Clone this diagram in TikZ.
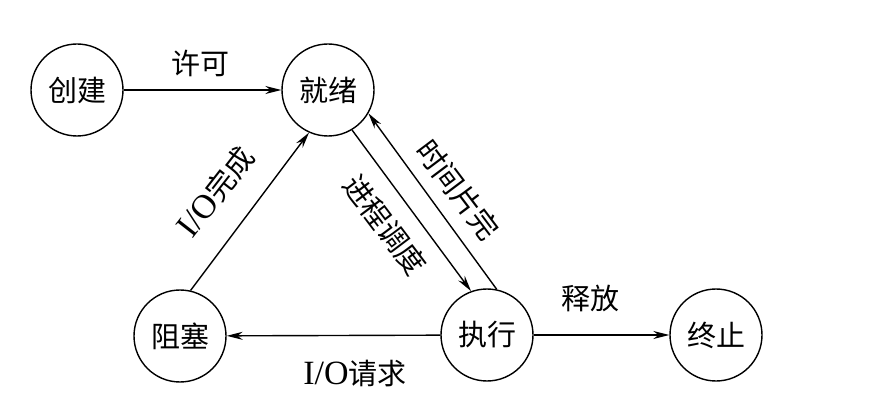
\documentclass[tikz,border=0pt]{standalone}
\usepackage{fontspec}
\setmainfont{Liberation Serif}
\newfontfamily\zh{Noto Sans CJK SC}
\usetikzlibrary{arrows.meta}
\newcommand{\io}{{\rmfamily\fontsize{34}{34}\selectfont I/O}}

\begin{document}
\begin{tikzpicture}[x=1pt,y=-1pt,line width=1.4pt,
  state/.style={circle, draw, minimum size=92pt, inner sep=0pt, font=\zh\fontsize{29}{29}\selectfont},
  lbl/.style={font=\zh\fontsize{29}{29}\selectfont, inner sep=2pt},
  tip/.style={-{Stealth[length=16pt,width=8pt]}}]

\useasboundingbox (0,0) rectangle (872,411);

\node[state] (cj) at (77,90)  {创建};
\node[state] (jx) at (328,90) {就绪};
\node[state] (zs) at (180,336) {阻塞};
\node[state] (zx) at (487,335) {执行};
\node[state] (zz) at (716,335) {终止};

\draw [tip] (cj) -- (jx);
\node[lbl] (xk) at (200,63) {许可};

\draw [tip] (zs.77) -- (jx.246);
\node[lbl, rotate=52] (wc) at (216,192) {\io 完成};

\draw [tip] (jx.-59) -- (zx.110);
\node[lbl, rotate=-53] (dd) at (385,225) {进程调度};

\draw [tip] (zx.78) -- (jx.-30);
\node[lbl, rotate=-53] (sj) at (458,190) {时间片完};

\draw [tip] (zx) -- (zs);
\node[lbl] (qq) at (355,374) {\io 请求};

\draw [tip] (zx) -- (zz);
\node[lbl] (sf) at (590,298) {释放};

\end{tikzpicture}
\end{document}
